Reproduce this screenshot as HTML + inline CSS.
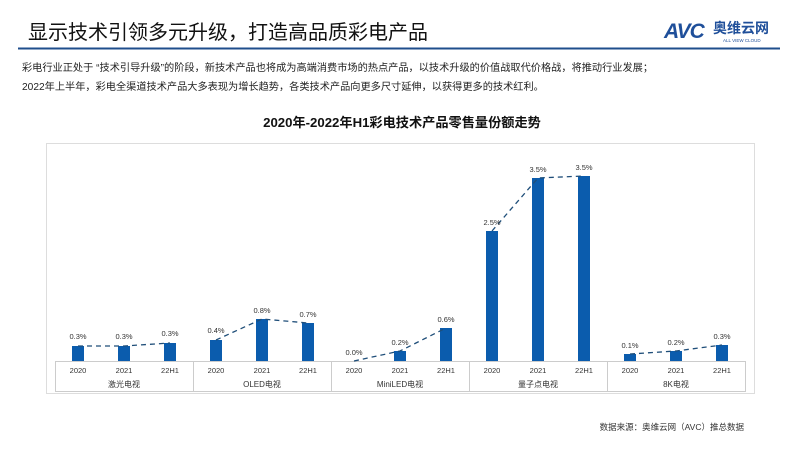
<!DOCTYPE html>
<html><head><meta charset="utf-8"><style>
html,body{margin:0;padding:0;background:#fff;width:800px;height:450px;overflow:hidden}
svg text{font-family:"Liberation Sans","Noto Sans CJK SC",sans-serif}
</style></head><body>
<svg width="800" height="450" viewBox="0 0 800 450" xmlns="http://www.w3.org/2000/svg">
<text x="28" y="39" font-size="20" fill="#111">显示技术引领多元升级，打造高品质彩电产品</text>
<text x="664" y="38" font-size="21" font-weight="bold" fill="#1f4f9a" font-style="italic" letter-spacing="-1">AVC</text>
<text x="713" y="33" font-size="14" font-weight="bold" fill="#1f4f9a">奥维云网</text>
<text x="723" y="42" font-size="4.5" fill="#1f4f9a">ALL VIEW CLOUD</text>
<line x1="18" y1="48.5" x2="780" y2="48.5" stroke="#1f4e8c" stroke-width="2"/>
<text x="22" y="71" font-size="10.2" fill="#222">彩电行业正处于 “技术引导升级”的阶段，新技术产品也将成为高端消费市场的热点产品，以技术升级的价值战取代价格战，将推动行业发展；</text>
<text x="22" y="90" font-size="10.2" fill="#222">2022年上半年，彩电全渠道技术产品大多表现为增长趋势，各类技术产品向更多尺寸延伸，以获得更多的技术红利。</text>
<text x="402" y="127" font-size="13.2" font-weight="bold" fill="#111" text-anchor="middle">2020年-2022年H1彩电技术产品零售量份额走势</text>
<rect x="46.5" y="143.5" width="708" height="250" fill="none" stroke="#ddd"/>
<g stroke="#ccc" stroke-width="1" fill="none">
<line x1="55" y1="361.5" x2="745" y2="361.5"/>
<line x1="55" y1="391.5" x2="745" y2="391.5"/>
<line x1="55.5" y1="361" x2="55.5" y2="392"/>
<line x1="193.5" y1="361" x2="193.5" y2="392"/>
<line x1="331.5" y1="361" x2="331.5" y2="392"/>
<line x1="469.5" y1="361" x2="469.5" y2="392"/>
<line x1="607.5" y1="361" x2="607.5" y2="392"/>
<line x1="745.5" y1="361" x2="745.5" y2="392"/>
</g>
<g fill="#0b5cad">
<rect x="72" y="346" width="12" height="15"/><rect x="118" y="346" width="12" height="15"/><rect x="164" y="343" width="12" height="18"/>
<rect x="210" y="340" width="12" height="21"/><rect x="256" y="319" width="12" height="42"/><rect x="302" y="323" width="12" height="38"/>
<rect x="394" y="351" width="12" height="10"/><rect x="440" y="328" width="12" height="33"/>
<rect x="486" y="231" width="12" height="130"/><rect x="532" y="178" width="12" height="183"/><rect x="578" y="176" width="12" height="185"/>
<rect x="624" y="354" width="12" height="7"/><rect x="670" y="351" width="12" height="10"/><rect x="716" y="345" width="12" height="16"/>
</g>
<g stroke="#1f4e79" stroke-width="1.3" stroke-dasharray="5,4" fill="none">
<polyline points="78,346 124,346 170,343"/>
<polyline points="216,340 262,319 308,323"/>
<polyline points="354,361 400,351 446,328"/>
<polyline points="492,231 538,178 584,176"/>
<polyline points="630,354 676,351 722,345"/>
</g>
<g font-size="7.5" fill="#333" text-anchor="middle">
<text x="78" y="339">0.3%</text><text x="124" y="339">0.3%</text><text x="170" y="336">0.3%</text>
<text x="216" y="333">0.4%</text><text x="262" y="313">0.8%</text><text x="308" y="317">0.7%</text>
<text x="354" y="355">0.0%</text><text x="400" y="345">0.2%</text><text x="446" y="322">0.6%</text>
<text x="492" y="225">2.5%</text><text x="538" y="172">3.5%</text><text x="584" y="170">3.5%</text>
<text x="630" y="348">0.1%</text><text x="676" y="345">0.2%</text><text x="722" y="339">0.3%</text>
</g>
<g font-size="7.5" fill="#333" text-anchor="middle">
<text x="78" y="373">2020</text><text x="124" y="373">2021</text><text x="170" y="373">22H1</text>
<text x="216" y="373">2020</text><text x="262" y="373">2021</text><text x="308" y="373">22H1</text>
<text x="354" y="373">2020</text><text x="400" y="373">2021</text><text x="446" y="373">22H1</text>
<text x="492" y="373">2020</text><text x="538" y="373">2021</text><text x="584" y="373">22H1</text>
<text x="630" y="373">2020</text><text x="676" y="373">2021</text><text x="722" y="373">22H1</text>
</g>
<g font-size="8" fill="#333" text-anchor="middle">
<text x="124" y="387">激光电视</text><text x="262" y="387">OLED电视</text><text x="400" y="387">MiniLED电视</text><text x="538" y="387">量子点电视</text><text x="676" y="387">8K电视</text>
</g>
<text x="744" y="430" font-size="8.5" fill="#333" text-anchor="end">数据来源：奥维云网（AVC）推总数据</text>
</svg>
</body></html>
